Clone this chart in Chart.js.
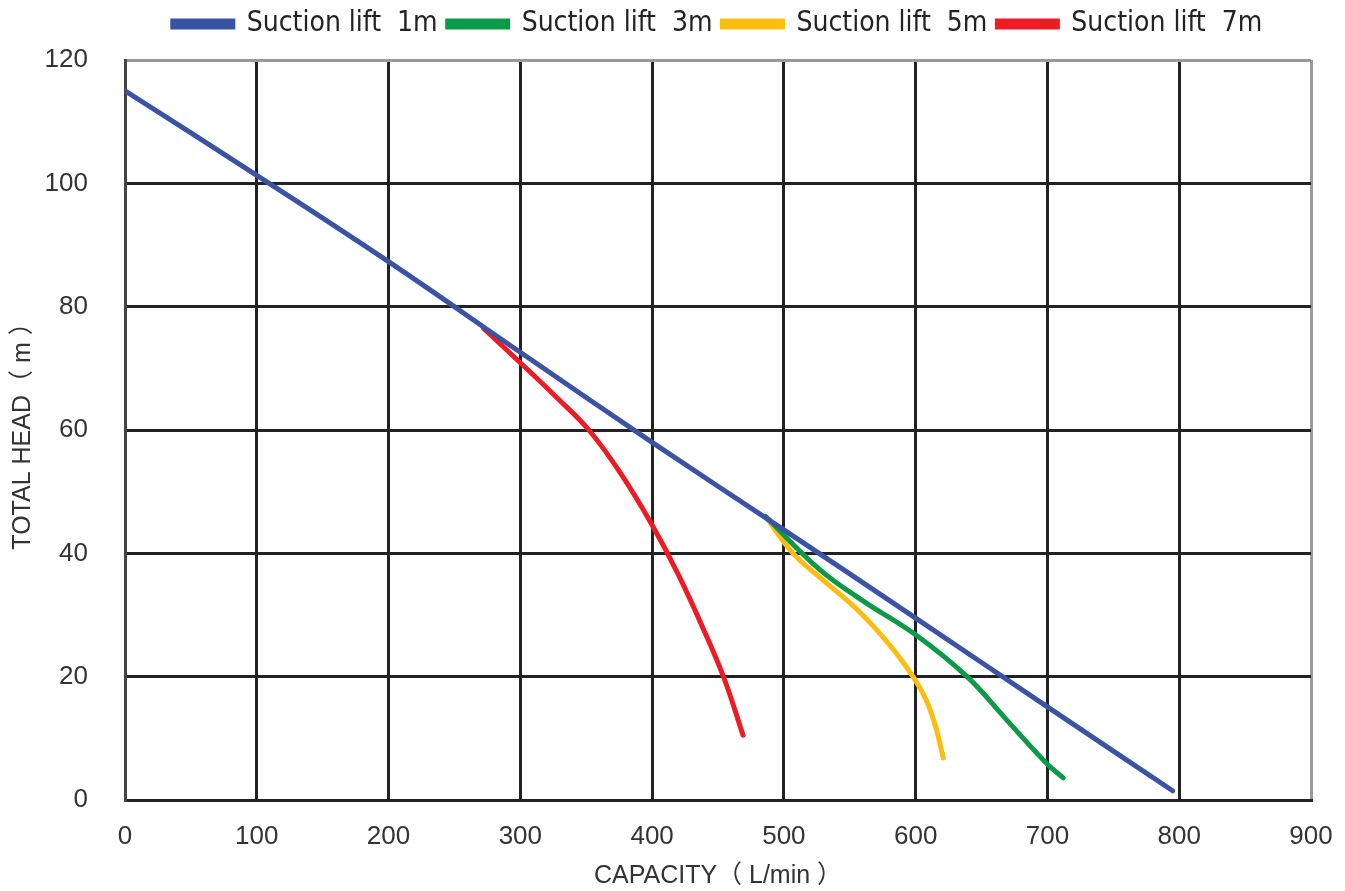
<!DOCTYPE html>
<html>
<head>
<meta charset="utf-8">
<script src="https://cdn.jsdelivr.net/npm/chart.js@4.4.1/dist/chart.umd.min.js"></script>
<style>
  body { margin: 0; background: #fff; }
  #wrap { width: 1345px; height: 891px; }
</style>
</head>
<body>
<div id="wrap"><canvas id="myChart"></canvas></div>
<script>
// values
const seriesNames = ["Suction lift  1m", "Suction lift  3m", "Suction lift  5m", "Suction lift  7m"];
const seriesColors = ["#3a53a4", "#0d9a48", "#fdbd10", "#ed1c24"];

const lift1X = [0, 100, 200, 300, 400, 500, 600, 700, 795];
const lift1Y = [115, 101.3, 87.3, 72.6, 58, 43.8, 29.5, 15.1, 1.5];

const lift3X = [486, 527, 560, 600, 639, 669, 700, 712];
const lift3Y = [46, 37.4, 32.3, 26.8, 20, 13, 5.8, 3.6];

const lift5X = [486, 507, 530, 555, 580, 598, 608, 615, 621];
const lift5Y = [46, 40, 35.6, 31, 25.2, 20, 16.2, 12, 6.8];

const lift7X = [272, 300, 326, 352, 376, 400, 420, 440, 455, 469];
const lift7Y = [76.5, 70.9, 65.6, 60, 53, 44.6, 36.5, 27.2, 19.5, 10.5];

const xTicks = [0, 100, 200, 300, 400, 500, 600, 700, 800, 900];
const yTicks = [0, 20, 40, 60, 80, 100, 120];

function pairs(xs, ys) {
    return xs.map((x, i) => ({ x: x, y: ys[i] }));
}

const allX = [lift1X, lift3X, lift5X, lift7X];
const allY = [lift1Y, lift3Y, lift5Y, lift7Y];

const datasets = seriesNames.map((name, i) => ({
    label: name,
    data: pairs(allX[i], allY[i]),
    borderColor: seriesColors[i],
    backgroundColor: seriesColors[i],
    borderWidth: 5,
    borderCapStyle: 'round',
    pointRadius: 0,
    showLine: true,
    tension: 0.4
}));

const tickFont = { family: "'Liberation Sans', Arial, sans-serif", size: 26 };
const titleFont = { family: "'Liberation Sans', 'Noto Sans CJK JP', sans-serif", size: 25 };

// fixed legend height, and nudge the legend right like in the reference
const legendFix = {
    id: 'legendFix',
    beforeLayout(chart) {
        const lg = chart.legend;
        if (lg && !lg._fixed) {
            const fit = lg.fit;
            lg.fit = function () {
                fit.call(this);
                this.height = 60;
            };
            lg._fixed = true;
        }
    },
    afterLayout(chart) {
        const lg = chart.legend;
        if (lg) {
            lg.left += 62;
            lg.right += 62;
        }
    }
};

new Chart(document.getElementById('myChart'), {
    type: 'scatter',
    data: { datasets: datasets },
    plugins: [legendFix],
    options: {
        responsive: true,
        maintainAspectRatio: false,
        animation: false,
        layout: { padding: { top: 0, right: 34, left: 0, bottom: 0 } },
        plugins: {
            tooltip: { enabled: false },
            legend: {
                position: 'top',
                labels: {
                    boxWidth: 60,
                    boxHeight: 6,
                    padding: 10,
                    color: '#222',
                    font: { family: "'Liberation Sans Narrow', 'DejaVu Sans Condensed', 'Liberation Sans', sans-serif", size: 28 }
                }
            }
        },
        scales: {
            x: {
                type: 'linear',
                min: 0,
                max: 900,
                afterBuildTicks: (scale) => { scale.ticks = xTicks.map(v => ({ value: v })); },
                afterFit: (scale) => {
                    scale.height = 91;
                    scale.paddingRight = 0;
                    scale.paddingLeft = 0;
                },
                ticks: { color: '#333', font: tickFont, padding: 21, maxRotation: 0 },
                grid: {
                    color: (ctx) => ctx.tick && ctx.tick.value === 900 ? '#999' : '#222',
                    lineWidth: 3,
                    drawTicks: false
                },
                border: { color: '#222', width: 3 },
                title: {
                    display: true,
                    text: 'CAPACITY（ L/min ）',
                    color: '#333',
                    font: titleFont,
                    padding: { top: 4, bottom: 0 }
                }
            },
            y: {
                type: 'linear',
                min: 0,
                max: 120,
                afterBuildTicks: (scale) => { scale.ticks = yTicks.map(v => ({ value: v })); },
                afterFit: (scale) => { scale.width = 125; },
                ticks: { color: '#333', font: tickFont, padding: 37 },
                grid: {
                    color: (ctx) => ctx.tick && ctx.tick.value === 120 ? '#999' : '#222',
                    lineWidth: 3,
                    drawTicks: false
                },
                border: { color: '#444', width: 3 },
                title: {
                    display: true,
                    text: 'TOTAL HEAD（ m ）',
                    color: '#333',
                    font: titleFont,
                    padding: { top: 8, bottom: 0 }
                }
            }
        }
    }
});
</script>
</body>
</html>
